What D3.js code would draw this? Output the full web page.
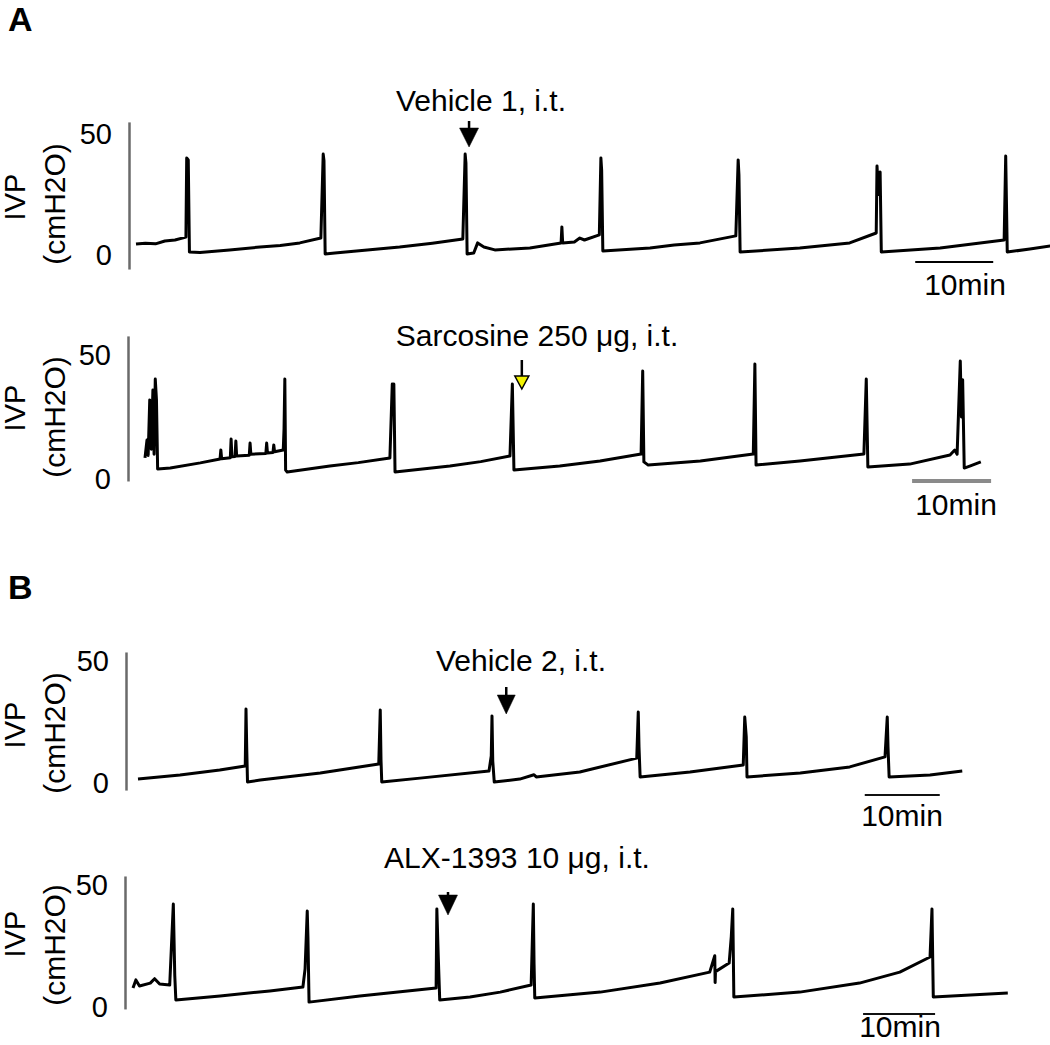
<!DOCTYPE html>
<html><head><meta charset="utf-8">
<script src="https://cdn.jsdelivr.net/npm/d3@7"></script>
<style>
body{margin:0;background:#fff}
svg{display:block}
text{font-family:"Liberation Sans",Arial,sans-serif;fill:#000}
</style>
</head><body>
<svg id="chart" width="1050" height="1045"></svg>
<script>
// ---------------- data (time in min, IVP in cmH2O) ----------------
const panelLetters = ["A", "B"];
const tickValues = [0, 50];
const yLabelMain = "IVP";
const yLabelUnit = "(cmH2O)";
const scaleBarMinutes = 10;
const scaleBarText = "10min";

const injectionLabels = ["Vehicle 1, i.t.", "Sarcosine 250 \u03bcg, i.t.", "Vehicle 2, i.t.", "ALX-1393 10 \u03bcg, i.t."];
const injectionTimes = [42.7, 47.7, 49.1, 43.75];
const scaleBarStarts = [99.9, 97.1, 96.9, 101.4];

const a1Time = [0,1.2,2.5,3.7,5.0,6.4,6.5,6.7,6.85,8.2,12.0,15.9,18.5,21.0,23.7,24.0,24.1,24.25,25.5,30.0,33.8,38.0,41.9,42.2,42.3,42.45,43.3,43.8,44.6,46.0,50.5,54.5,54.6,54.7,56.2,56.9,57.5,59.4,59.6,59.7,59.85,65.9,69.0,72.3,76.9,77.2,77.3,77.45,85.1,91.5,94.9,95.0,95.2,95.4,95.55,103.1,111.3,111.5,111.7,114.6,117.2];
const a1Ivp  = [4.5,4.9,4.6,5.8,6.2,7.4,40.1,39.3,1.2,1.0,2.1,3.3,3.9,5.0,7.0,41.7,39.0,0.4,0.8,2.2,3.3,4.9,6.6,41.7,38.0,0.4,0.8,5.0,3.3,2.1,2.9,5.0,11.6,5.0,5.4,7.0,6.2,8.3,40.1,35.0,1.7,2.9,4.1,5.0,7.9,39.3,33.0,1.2,2.9,5.0,9.1,36.8,25.0,34.3,1.2,2.9,6.2,40.9,1.2,2.5,3.7];

const a2Time = [0,0.25,0.4,0.6,0.8,1.0,1.15,1.3,1.45,1.6,3.2,7.0,9.5,9.6,9.7,10.8,10.9,11.0,11.4,11.5,11.6,13.2,13.3,13.4,15.3,15.4,15.5,16.2,16.3,16.4,17.5,17.6,17.7,17.8,18.0,23.4,27.0,31.0,31.3,31.4,31.5,31.65,38.6,42.5,46.2,46.5,46.7,52.5,57.6,62.8,63.0,63.15,63.7,70.3,77.0,77.2,77.35,82.9,91.0,91.3,91.5,96.8,101.9,102.5,102.8,103.2,103.35,103.5,103.7,104.4,105.8];
const a2Ivp  = [8.5,15.7,9.5,31.9,12.0,35.9,10.0,40.3,32.0,4.0,4.4,6.5,8.1,11.7,8.2,8.6,16.1,9.0,9.1,15.3,9.3,9.6,14.5,10.0,10.3,14.5,10.5,10.7,13.7,11.0,11.7,20.2,40.3,3.6,2.8,5.2,6.6,8.5,38.3,35.0,38.3,2.8,5.2,7.0,9.3,38.3,3.6,5.2,7.3,10.1,43.5,6.9,5.6,7.3,10.1,46.4,5.6,7.3,10.1,40.3,4.8,6.0,9.7,11.7,10.0,47.6,25.0,40.0,4.4,5.2,6.9];

const b1Time = [0,5.6,10.9,14.3,14.4,14.5,14.6,16.3,24.3,32.1,32.3,32.4,32.5,37.6,46.8,47.1,47.2,47.3,47.5,50.9,52.8,53.1,58.9,66.5,66.7,66.8,66.95,73.6,80.7,80.9,81.1,81.2,88.3,94.9,99.6,99.9,100.0,100.15,105.6,109.9];
const b1Ivp  = [1.6,3.3,5.3,7.0,30.3,13.9,0.4,1.2,4.1,7.8,29.9,9.5,0.4,2.0,4.9,11.1,27.5,9.0,0.4,1.6,3.4,2.5,4.5,10.2,29.1,14.8,2.5,4.5,7.4,27.0,18.9,2.5,4.1,6.6,10.7,27.0,14.8,2.5,3.3,4.9];

const b2Time = [0,0.4,0.9,2.4,3.0,3.7,5.1,5.6,5.8,5.95,12.1,19.0,23.6,23.9,24.2,24.3,24.45,31.5,42.1,42.2,42.4,42.6,46.8,51.0,55.3,55.6,55.7,55.8,64.9,73.2,80.1,80.8,80.85,80.9,82.8,83.1,83.3,83.45,92.6,100.9,106.5,110.7,110.97,111.15,116.3,121.5];
const b2Ivp  = [7.8,11.1,8.6,9.8,11.6,9.4,9.0,42.2,13.0,2.9,4.5,6.6,8.2,15.6,39.3,28.3,2.0,4.5,7.8,40.2,20.5,2.9,4.1,6.1,9.0,42.2,18.0,3.7,6.1,9.8,14.3,21.0,10.0,14.5,18.0,29.1,40.2,4.1,6.1,9.8,14.3,20.5,40.2,4.1,4.9,5.7];

// ---------------- layout (pixels only) ----------------
const layout = [
  {x0:136, ppm:7.8, y0:255, pxPerUnit:2.42, axisX:129, axisLo:-5.8, axisHi:55,
   arrow:{top:121, headTop:128, headBot:147, half:9.5, fill:"#000"}, label:{x:481, y:111},
   bar:{y:262, color:"#000", w:2.2}, barText:{x:965, y:295}, yl:{ivp:197, unit:204}},
  {x0:145, ppm:7.9, y0:479, pxPerUnit:2.48, axisX:128, axisLo:-0.8, axisHi:57.7,
   arrow:{top:360, headTop:376, headBot:389, half:7, fill:"#f2f200"}, label:{x:537, y:346},
   bar:{y:481, color:"#8a8a8a", w:4}, barText:{x:956, y:515}, yl:{ivp:408, unit:417}},
  {x0:138, ppm:7.5, y0:783, pxPerUnit:2.44, axisX:126, axisLo:-2.9, axisHi:53.7,
   arrow:{top:687, headTop:695, headBot:714, half:9, fill:"#000"}, label:{x:521, y:671},
   bar:{y:795, color:"#111", w:2}, barText:{x:902, y:826}, yl:{ivp:725, unit:733}},
  {x0:133, ppm:7.2, y0:1007, pxPerUnit:2.44, axisX:125, axisLo:-0.8, axisHi:53.7,
   arrow:{top:892, headTop:895, headBot:915, half:9.5, fill:"#000"}, label:{x:517, y:868},
   bar:{y:1014, color:"#111", w:2}, barText:{x:900, y:1037}, yl:{ivp:934, unit:945}}
];
const series = [[a1Time,a1Ivp],[a2Time,a2Ivp],[b1Time,b1Ivp],[b2Time,b2Ivp]];

const svg = d3.select("#chart");

// panel letters
svg.append("text").attr("x", 8).attr("y", 31).attr("font-size", 34).attr("font-weight", "bold").text(panelLetters[0]);
svg.append("text").attr("x", 8).attr("y", 599).attr("font-size", 34).attr("font-weight", "bold").text(panelLetters[1]);

series.forEach(([time, ivp], i) => {
  const L = layout[i];
  const x = d3.scaleLinear().domain([0, 10]).range([L.x0, L.x0 + L.ppm * 10]);
  const yPix = v => L.y0 - v * L.pxPerUnit;
  const y = d3.scaleLinear().domain([L.axisLo, L.axisHi]).range([yPix(L.axisLo), yPix(L.axisHi)]);
  const g = svg.append("g");

  // y axis (line + 0/50 labels)
  const ax = g.append("g").attr("transform", `translate(${L.axisX},0)`)
    .call(d3.axisLeft(y).tickValues(tickValues).tickSize(0).tickPadding(17).tickSizeOuter(0));
  ax.select(".domain").attr("stroke", "#6a6a6a").attr("stroke-width", 2.5);
  ax.selectAll(".tick text").attr("font-size", 29).attr("font-family", '"Liberation Sans",Arial,sans-serif').attr("fill", "#000");

  // y labels
  g.append("text").attr("transform", `translate(25,${L.yl.ivp}) rotate(-90)`)
    .attr("text-anchor", "middle").attr("font-size", 29).text(yLabelMain);
  g.append("text").attr("transform", `translate(65,${L.yl.unit}) rotate(-90)`)
    .attr("text-anchor", "middle").attr("font-size", 30).text(yLabelUnit);

  // trace
  const data = time.map((t, k) => [t, ivp[k]]);
  g.append("path").datum(data)
    .attr("d", d3.line().x(d => x(d[0])).y(d => y(d[1])))
    .attr("fill", "none").attr("stroke", "#000").attr("stroke-width", 3)
    .attr("stroke-linejoin", "round");

  // injection arrow + label
  const ax0 = x(injectionTimes[i]);
  const A = L.arrow;
  g.append("line").attr("x1", ax0).attr("x2", ax0).attr("y1", A.top).attr("y2", A.headTop + 2)
    .attr("stroke", "#000").attr("stroke-width", 2.5);
  g.append("path")
    .attr("d", `M${ax0 - A.half},${A.headTop}L${ax0 + A.half},${A.headTop}L${ax0},${A.headBot}Z`)
    .attr("fill", A.fill).attr("stroke", "#000").attr("stroke-width", A.fill === "#000" ? 0.5 : 1.5);
  g.append("text").attr("x", L.label.x).attr("y", L.label.y).attr("text-anchor", "middle")
    .attr("font-size", 30).text(injectionLabels[i]);

  // scale bar
  const s0 = scaleBarStarts[i];
  g.append("line").attr("x1", x(s0)).attr("x2", x(s0 + scaleBarMinutes))
    .attr("y1", L.bar.y).attr("y2", L.bar.y)
    .attr("stroke", L.bar.color).attr("stroke-width", L.bar.w);
  g.append("text").attr("x", L.barText.x).attr("y", L.barText.y).attr("text-anchor", "middle")
    .attr("font-size", 30).text(scaleBarText);
});
</script>
</body></html>
